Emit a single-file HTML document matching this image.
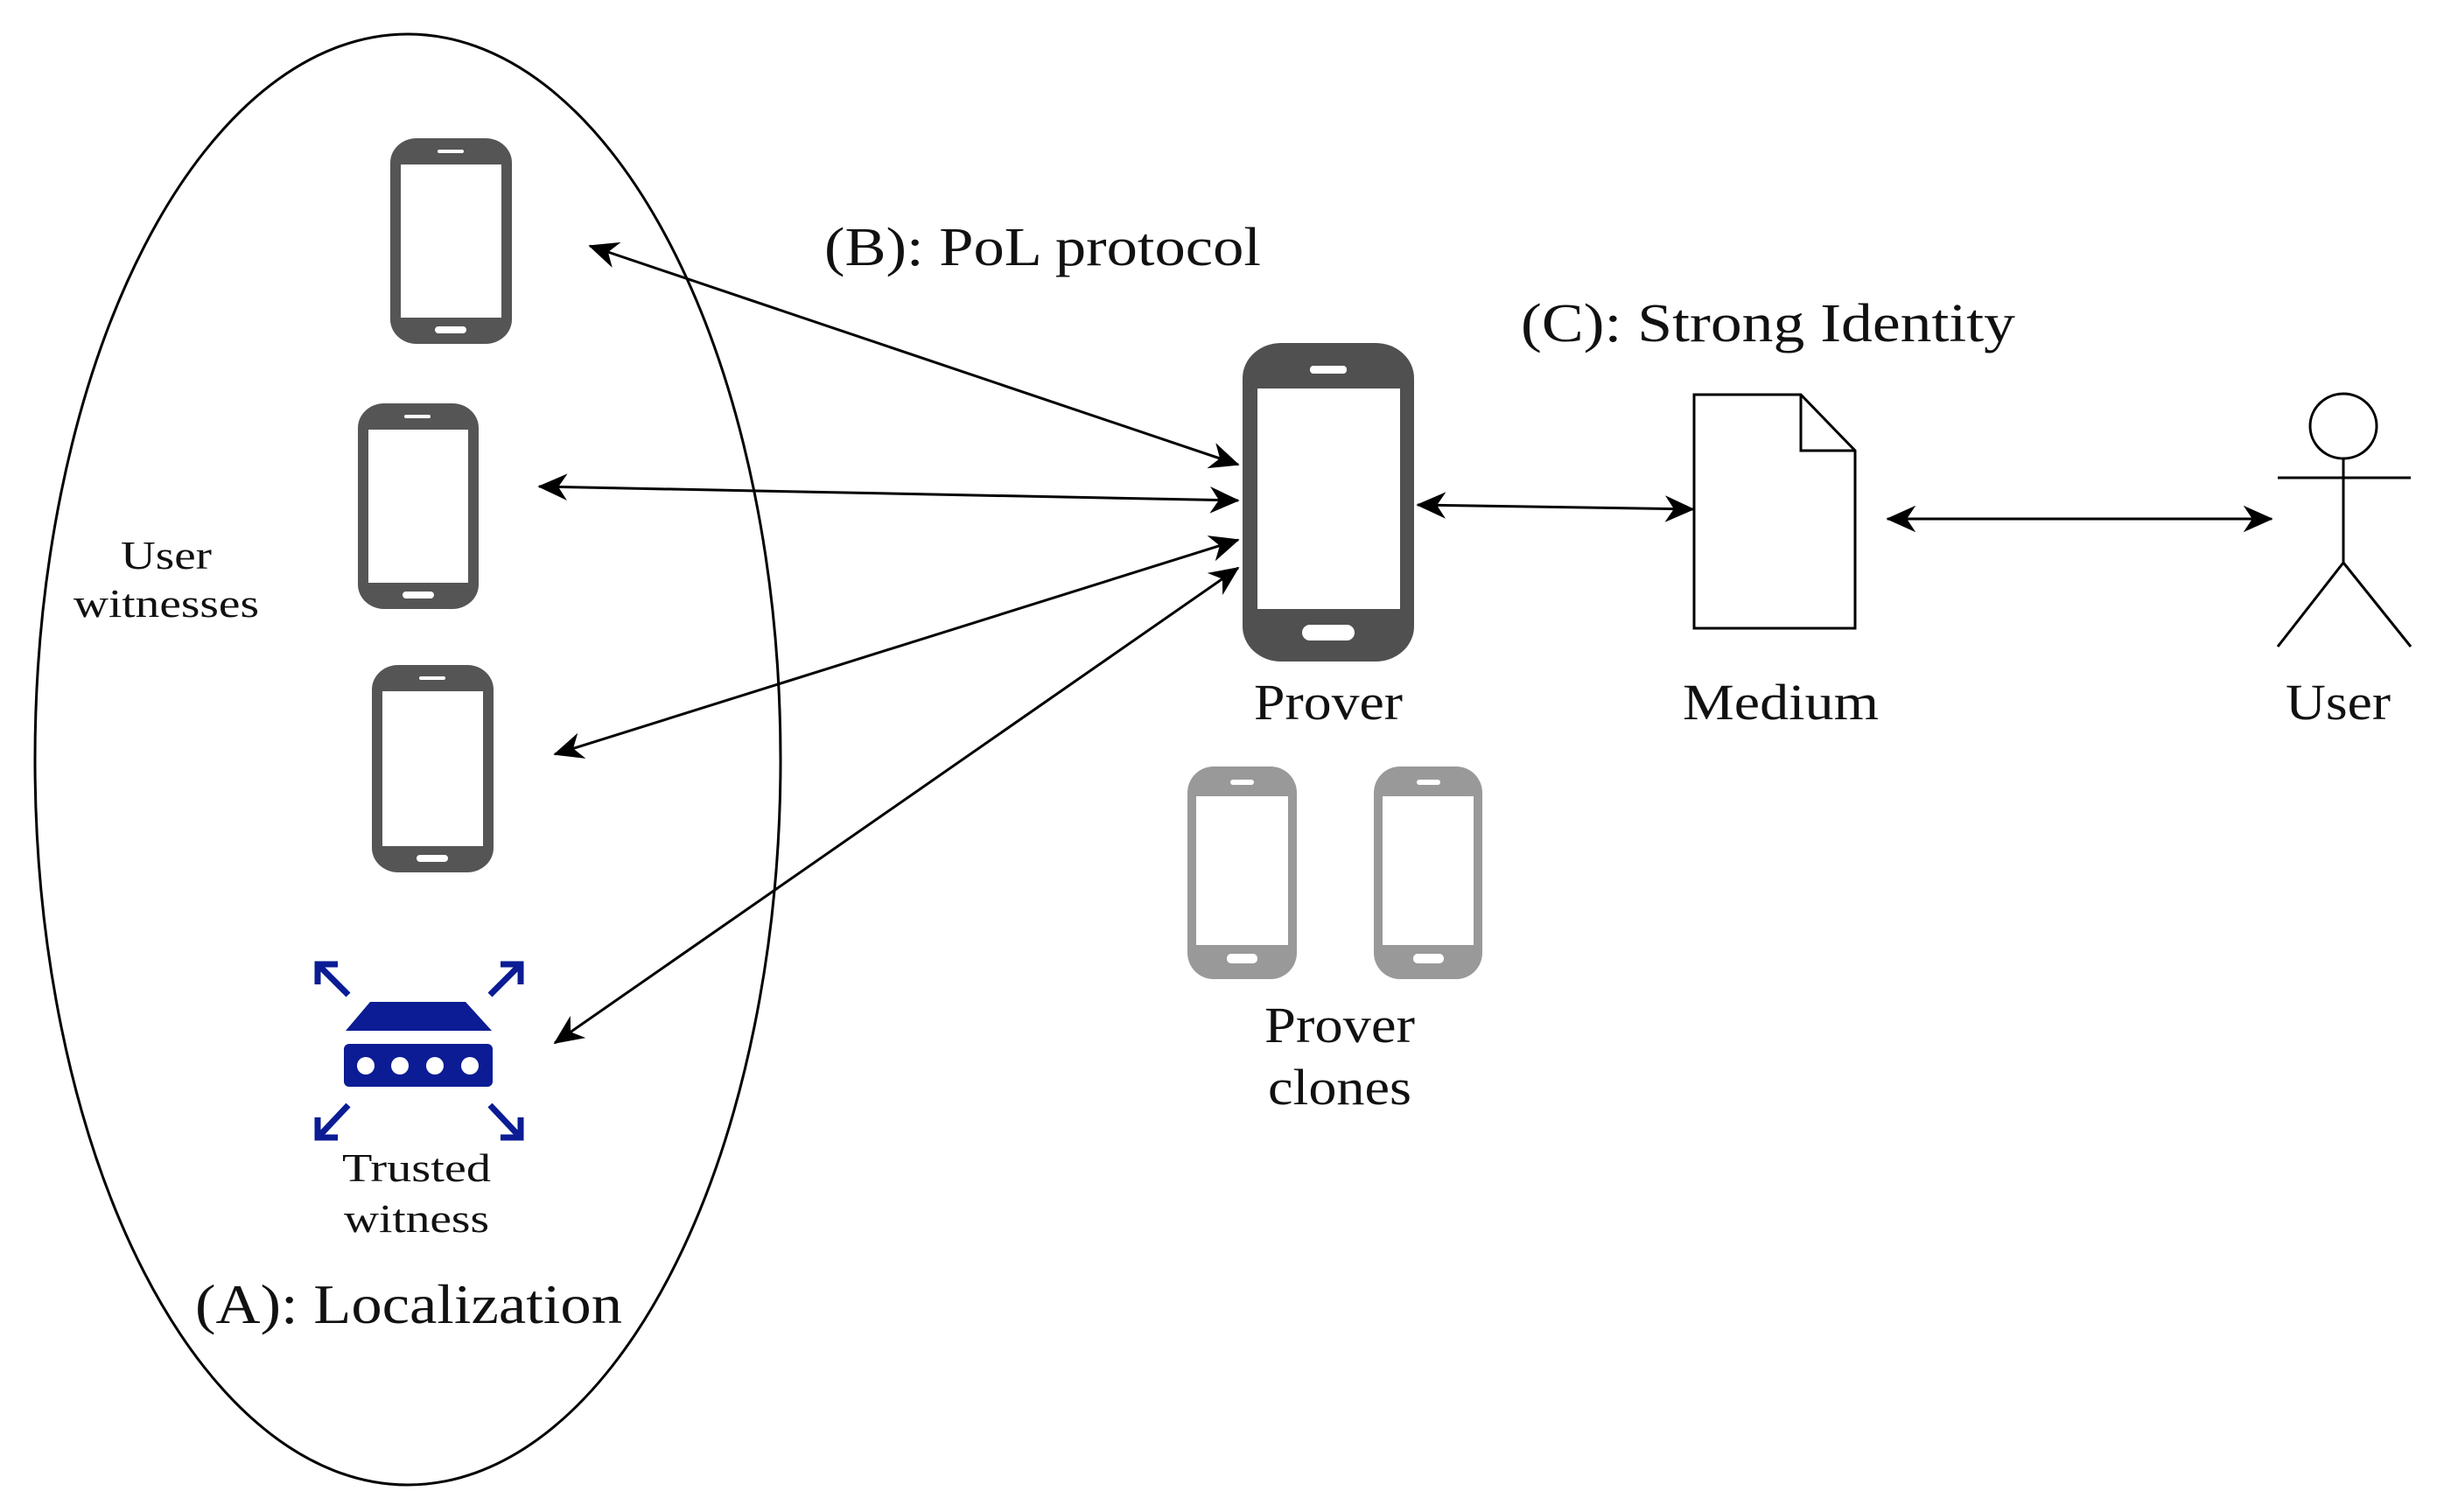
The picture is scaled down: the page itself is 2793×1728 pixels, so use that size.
<!DOCTYPE html>
<html><head><meta charset="utf-8"><style>
html,body{margin:0;padding:0;background:#fff;}
svg{display:block;}
text{font-family:"Liberation Serif",serif;fill:#111;}
</style></head><body>
<svg width="2793" height="1728" viewBox="0 0 2793 1728" xmlns="http://www.w3.org/2000/svg">
<defs>
<marker id="ah2" viewBox="0 0 20 20" refX="19" refY="10" markerWidth="34" markerHeight="34" markerUnits="userSpaceOnUse" orient="auto-start-reverse">
<path d="M0,1 L20,10 L0,19 L6,10 Z" fill="#000"/>
</marker>
</defs>

<ellipse cx="466" cy="868" rx="426" ry="829" fill="none" stroke="#000" stroke-width="3"/>

<g fill="#555">
<rect x="446" y="158" width="139" height="235" rx="30" ry="28"/>
<rect x="409" y="461" width="138" height="235" rx="30" ry="28"/>
<rect x="425" y="760" width="139" height="237" rx="30" ry="28"/>
</g>
<g fill="#fff">
<rect x="458" y="188" width="115" height="175"/>
<rect x="421" y="491" width="114" height="175"/>
<rect x="437" y="790" width="115" height="177"/>
<rect x="500" y="171" width="30" height="4" rx="2"/>
<rect x="462" y="474" width="30" height="4" rx="2"/>
<rect x="479" y="773" width="30" height="4" rx="2"/>
<rect x="497" y="373" width="36" height="8" rx="4"/>
<rect x="460" y="676" width="36" height="8" rx="4"/>
<rect x="476" y="977" width="36" height="8" rx="4"/>
</g>

<g fill="#0b1c94">
<path d="M423,1145 L532,1145 L562,1178 L395,1178 Z"/>
<rect x="393" y="1193" width="170" height="49" rx="6"/>
</g>
<g fill="#fff">
<circle cx="418" cy="1218" r="10"/><circle cx="457" cy="1218" r="10"/><circle cx="497" cy="1218" r="10"/><circle cx="537" cy="1218" r="10"/>
</g>
<g stroke="#0b1c94" stroke-width="7" fill="none">
<line x1="398" y1="1137" x2="366" y2="1105"/>
<line x1="560" y1="1137" x2="592" y2="1105"/>
<line x1="398" y1="1263" x2="366" y2="1297"/>
<line x1="560" y1="1263" x2="592" y2="1297"/>
<path d="M363,1125 L363,1102 L386,1102"/>
<path d="M572,1102 L595,1102 L595,1125"/>
<path d="M363,1277 L363,1300 L386,1300"/>
<path d="M572,1300 L595,1300 L595,1277"/>
</g>

<g stroke="#000" stroke-width="3" fill="none">
<line x1="674" y1="281" x2="1415" y2="531" marker-start="url(#ah2)" marker-end="url(#ah2)"/>
<line x1="616" y1="556" x2="1415" y2="572" marker-start="url(#ah2)" marker-end="url(#ah2)"/>
<line x1="634" y1="862" x2="1415" y2="617" marker-start="url(#ah2)" marker-end="url(#ah2)"/>
<line x1="634" y1="1192" x2="1415" y2="649" marker-start="url(#ah2)" marker-end="url(#ah2)"/>
<line x1="1620" y1="577" x2="1935" y2="582" marker-start="url(#ah2)" marker-end="url(#ah2)"/>
<line x1="2157" y1="593" x2="2596" y2="593" marker-start="url(#ah2)" marker-end="url(#ah2)"/>
</g>

<rect x="1420" y="392" width="196" height="364" rx="44" ry="40" fill="#505050"/>
<rect x="1437" y="444" width="163" height="252" fill="#fff"/>
<rect x="1497" y="418" width="42" height="9" rx="4" fill="#fff"/>
<rect x="1488" y="714" width="60" height="18" rx="9" fill="#fff"/>

<rect x="1357" y="876" width="125" height="243" rx="30" ry="30" fill="#999"/>
<rect x="1570" y="876" width="124" height="243" rx="30" ry="30" fill="#999"/>
<rect x="1367" y="910" width="105" height="170" fill="#fff"/>
<rect x="1580" y="910" width="104" height="170" fill="#fff"/>
<rect x="1406" y="891" width="27" height="6" rx="3" fill="#fff"/>
<rect x="1619" y="891" width="27" height="6" rx="3" fill="#fff"/>
<rect x="1402" y="1090" width="35" height="11" rx="5" fill="#fff"/>
<rect x="1615" y="1090" width="35" height="11" rx="5" fill="#fff"/>

<path d="M1936,451 L2058,451 L2120,515 L2120,718 L1936,718 Z" fill="#fff" stroke="#000" stroke-width="3"/>
<path d="M2058,451 L2058,515 L2120,515" fill="none" stroke="#000" stroke-width="3"/>

<g stroke="#000" stroke-width="3" fill="none">
<ellipse cx="2678" cy="487" rx="38" ry="37"/>
<line x1="2678" y1="524" x2="2678" y2="643"/>
<line x1="2603" y1="546" x2="2755" y2="546"/>
<line x1="2678" y1="643" x2="2603" y2="739"/>
<line x1="2678" y1="643" x2="2755" y2="739"/>
</g>

<g text-anchor="middle" font-size="46">
<text x="190" y="650" textLength="104" lengthAdjust="spacingAndGlyphs">User</text>
<text x="190" y="705" textLength="212" lengthAdjust="spacingAndGlyphs">witnesses</text>
<text x="476" y="1350" textLength="170" lengthAdjust="spacingAndGlyphs">Trusted</text>
<text x="476" y="1408" textLength="166" lengthAdjust="spacingAndGlyphs">witness</text>
</g>
<text x="223" y="1512" font-size="64" textLength="488" lengthAdjust="spacingAndGlyphs">(A): Localization</text>
<text x="942" y="303" font-size="62" textLength="499" lengthAdjust="spacingAndGlyphs">(B): PoL protocol</text>
<text x="1738" y="390" font-size="62" textLength="565" lengthAdjust="spacingAndGlyphs">(C): Strong Identity</text>
<g text-anchor="middle" font-size="58">
<text x="1518" y="822" textLength="170" lengthAdjust="spacingAndGlyphs">Prover</text>
<text x="2035" y="822" textLength="224" lengthAdjust="spacingAndGlyphs">Medium</text>
<text x="2672" y="822" textLength="120" lengthAdjust="spacingAndGlyphs">User</text>
<text x="1531" y="1191" textLength="172" lengthAdjust="spacingAndGlyphs">Prover</text>
<text x="1531" y="1262" textLength="164" lengthAdjust="spacingAndGlyphs">clones</text>
</g>
</svg>
</body></html>
